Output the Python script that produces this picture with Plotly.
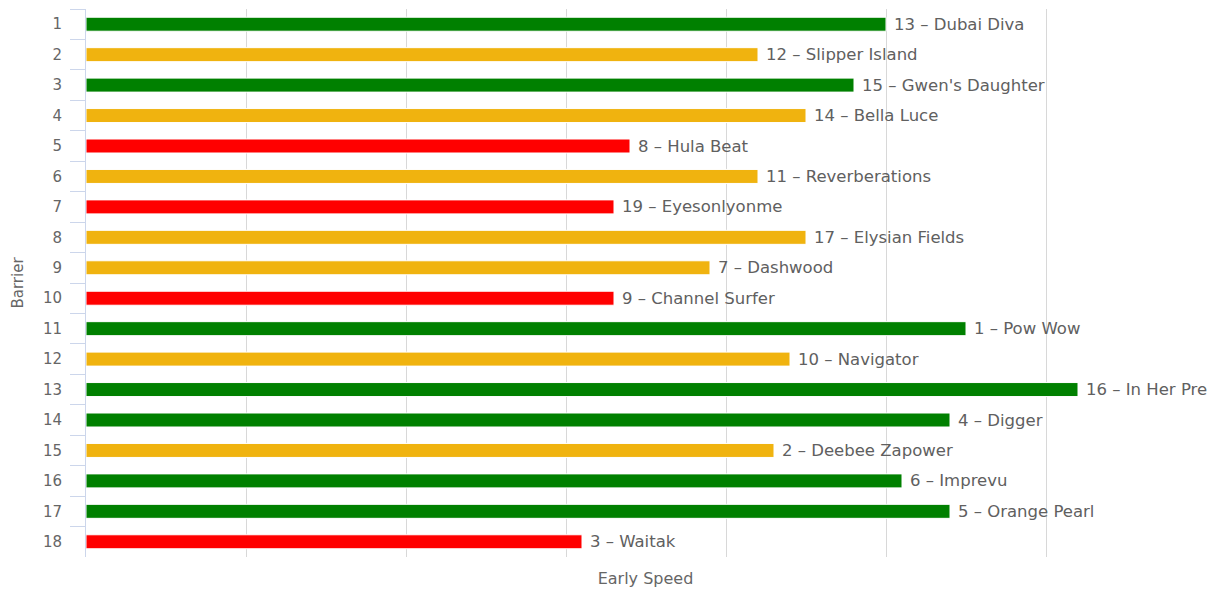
import plotly.graph_objects as go

barriers = [str(i) for i in range(1, 19)]
runners = ["13 – Dubai Diva", "12 – Slipper Island", "15 – Gwen's Daughter", "14 – Bella Luce",
           "8 – Hula Beat", "11 – Reverberations", "19 – Eyesonlyonme", "17 – Elysian Fields",
           "7 – Dashwood", "9 – Channel Surfer", "1 – Pow Wow", "10 – Navigator",
           "16 – In Her Pre", "4 – Digger", "2 – Deebee Zapower", "6 – Imprevu",
           "5 – Orange Pearl", "3 – Waitak"]
early_speed = [50, 42, 48, 45, 34, 42, 33, 45, 39, 33, 55, 44, 62, 54, 43, 51, 54, 31]
rating = ["good", "mid", "good", "mid", "low", "mid", "low", "mid", "mid", "low",
          "good", "mid", "good", "good", "mid", "good", "good", "low"]

palette = {"good": "#008000", "mid": "#F0B30F", "low": "#FF0000"}
colors = [palette[r] for r in rating]

FONT = "DejaVu Sans"

fig = go.Figure(go.Bar(
    y=barriers, x=early_speed, orientation="h",
    marker=dict(color=colors, line=dict(color="white", width=1)),
    width=0.46,
    hoverinfo="skip",
))

# category index positions for the labels (category axis)
for i, (v, t) in enumerate(zip(early_speed, runners)):
    fig.add_annotation(x=v, y=i, text=t, showarrow=False, xanchor="left", yanchor="middle",
                       xshift=6, font=dict(family=FONT, size=16.5, color="#606060"))

fig.update_layout(
    width=1214, height=581,
    margin=dict(l=78, r=17, t=1, b=32),
    plot_bgcolor="white", paper_bgcolor="white",
    font=dict(family=FONT, color="#666666", size=15),
    showlegend=False,
)
fig.update_xaxes(
    range=[0, 69.9375], dtick=10, tick0=0, showticklabels=False,
    showgrid=True, gridcolor="#D8D8D8", gridwidth=1, zeroline=False,
    showline=False, ticks="", automargin=False,
    title=dict(text="Early Speed", font=dict(size=16, color="#666666")),
)
fig.update_yaxes(
    type="category", autorange="reversed", automargin=False,
    showgrid=False, showline=True, linecolor="#CCD6EB", linewidth=1,
    ticks="outside", tickson="boundaries", ticklen=15, tickcolor="#CCD6EB",
    tickfont=dict(size=15, color="#666666"), ticklabelstandoff=20,
    title=dict(text="Barrier", font=dict(size=15, color="#666666")),
)

fig.write_html("out.html")
